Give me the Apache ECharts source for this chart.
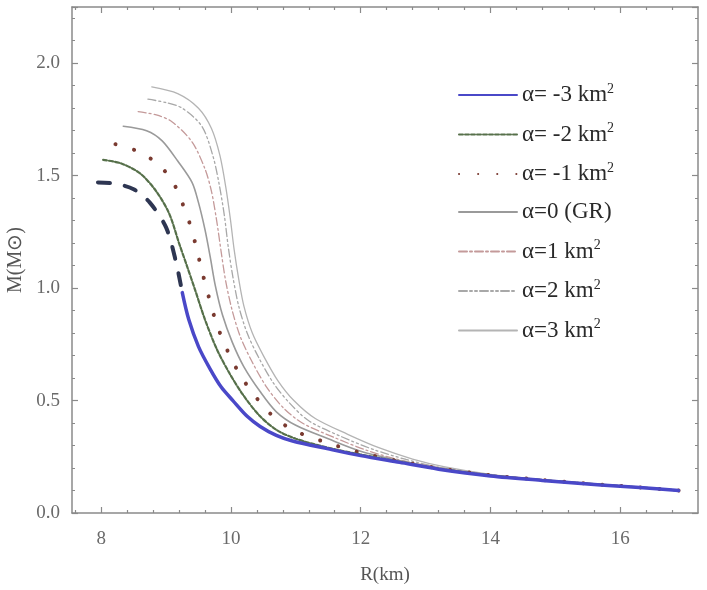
<!DOCTYPE html>
<html>
<head>
<meta charset="utf-8">
<script src="https://cdn.jsdelivr.net/npm/echarts@6/dist/echarts.min.js"></script>
<style>html,body{margin:0;padding:0;background:#fff;}#c{width:707px;height:590px;}</style>
</head>
<body>
<div id="c"></div>
<script>
// ---- data (R in km, M in solar masses) ----
var names = ['α= -3 km²', 'α= -2 km²', 'α= -1 km²', 'α=0 (GR)', 'α=1 km²', 'α=2 km²', 'α=3 km²'];
var alphaM3 = [[7.95,1.47],[8.2,1.465],[8.5,1.44],[8.75,1.38],[9.0,1.27],[9.15,1.12],[9.25,0.98],[9.35,0.86],[9.5,0.74],[9.68,0.64],[9.85,0.56],[10.03,0.50],[10.25,0.43],[10.45,0.385],[10.7,0.345],[10.95,0.32],[11.5,0.285],[12.0,0.255],[12.6,0.225],[13.2,0.195],[14.0,0.165],[14.8,0.145],[15.7,0.125],[16.3,0.113],[16.9,0.10]];
var alphaM2 = [[8.03,1.57],[8.3,1.555],[8.6,1.51],[8.85,1.43],[9.05,1.33],[9.2,1.20],[9.32,1.10],[9.45,0.99],[9.6,0.86],[9.78,0.73],[9.98,0.62],[10.2,0.52],[10.45,0.43],[10.7,0.37],[11.0,0.33],[11.5,0.29],[12.0,0.26],[12.6,0.228],[13.2,0.197],[14.0,0.167],[14.8,0.146],[15.7,0.126],[16.3,0.114],[16.9,0.10]];
var alphaM1 = [[8.22,1.64],[8.55,1.61],[8.86,1.555],[9.09,1.48],[9.22,1.40],[9.35,1.30],[9.45,1.20],[9.55,1.08],[9.65,0.97],[9.78,0.84],[9.95,0.72],[10.15,0.61],[10.4,0.51],[10.65,0.43],[10.95,0.37],[11.4,0.32],[12.0,0.268],[12.6,0.23],[13.2,0.199],[14.0,0.168],[14.8,0.147],[15.7,0.126],[16.3,0.114],[16.9,0.10]];
var alpha0 = [[8.34,1.72],[8.7,1.70],[8.94,1.655],[9.18,1.565],[9.4,1.47],[9.5,1.38],[9.6,1.26],[9.68,1.14],[9.76,1.01],[9.87,0.88],[10.02,0.76],[10.2,0.65],[10.45,0.54],[10.7,0.45],[11.0,0.39],[11.5,0.33],[12.0,0.275],[12.6,0.233],[13.2,0.2],[14.0,0.169],[14.8,0.147],[15.7,0.127],[16.3,0.114],[16.9,0.10]];
var alphaP1 = [[8.57,1.785],[8.85,1.77],[9.09,1.74],[9.4,1.65],[9.6,1.53],[9.7,1.43],[9.78,1.30],[9.85,1.16],[9.92,1.03],[10.02,0.90],[10.15,0.78],[10.33,0.67],[10.55,0.56],[10.8,0.47],[11.1,0.40],[11.6,0.335],[12.1,0.278],[12.6,0.236],[13.2,0.202],[14.0,0.17],[14.8,0.148],[15.7,0.127],[16.3,0.114],[16.9,0.10]];
var alphaP2 = [[8.72,1.84],[9.0,1.825],[9.25,1.80],[9.55,1.72],[9.72,1.59],[9.82,1.46],[9.9,1.32],[9.96,1.18],[10.03,1.05],[10.12,0.92],[10.25,0.80],[10.43,0.69],[10.65,0.58],[10.9,0.49],[11.2,0.41],[11.7,0.34],[12.2,0.282],[12.7,0.238],[13.2,0.204],[14.0,0.171],[14.8,0.148],[15.7,0.127],[16.3,0.114],[16.9,0.10]];
var alphaP3 = [[8.78,1.895],[9.18,1.865],[9.5,1.80],[9.7,1.71],[9.83,1.59],[9.92,1.45],[9.99,1.31],[10.05,1.17],[10.12,1.04],[10.2,0.92],[10.33,0.80],[10.5,0.70],[10.72,0.59],[10.97,0.50],[11.3,0.42],[11.8,0.35],[12.3,0.288],[12.8,0.24],[13.3,0.205],[14.0,0.172],[14.8,0.149],[15.7,0.128],[16.3,0.115],[16.9,0.10]];
var xMajorTicks = [8, 10, 12, 14, 16];
var yMajorTicks = [0.0, 0.5, 1.0, 1.5, 2.0];

// ---- chart ----
var XMIN = 7.55, XMAX = 17.2, YMIN = 0, YMAX = 2.25;
var xMinor = [];
for (var v = 7.6; v < XMAX; v += 0.4) { var r = Math.round(v * 10) / 10; if (xMajorTicks.indexOf(r) < 0) xMinor.push(r); }

var serif = 'Liberation Serif';
var frameColor = '#8a8a8a';
var labelColor = '#6a6a6a';

function xAx(pos, withLabels, ticks, len, showLine) {
  return {
    type: 'value', position: pos, min: XMIN, max: XMAX,
    axisLine: { show: showLine, onZero: false, lineStyle: { color: frameColor, width: 1.5 } },
    axisTick: { show: true, inside: true, length: len, customValues: ticks, lineStyle: { color: frameColor, width: 1.2 } },
    axisLabel: { show: withLabels, customValues: withLabels ? xMajorTicks : [], color: labelColor, fontFamily: serif, fontSize: 19, margin: 17, formatter: function (v) { return String(v); } },
    splitLine: { show: false },
    name: withLabels ? 'R(km)' : '', nameLocation: 'middle', nameGap: 53,
    nameTextStyle: { color: '#555', fontFamily: serif, fontSize: 19 }
  };
}
function yAx(pos, withLabels) {
  return {
    type: 'value', position: pos, min: YMIN, max: YMAX, interval: 0.5,
    axisLine: { show: true, onZero: false, lineStyle: { color: frameColor, width: 1.5 } },
    axisTick: { show: true, inside: true, length: 6, lineStyle: { color: frameColor, width: 1.2 } },
    minorTick: { show: true, splitNumber: 5, length: 3, lineStyle: { color: frameColor, width: 1 } },
    axisLabel: { show: withLabels, color: labelColor, fontFamily: serif, fontSize: 19, margin: 12,
      formatter: function (v) { return yMajorTicks.indexOf(v) >= 0 ? v.toFixed(1) : ''; } },
    splitLine: { show: false },
    name: withLabels ? 'M(M⊙)' : '', nameLocation: 'middle', nameGap: 42, nameRotate: 90,
    nameTextStyle: { color: '#555', fontFamily: serif, fontSize: 20 }
  };
}

var upper = alphaM3.filter(function (p) { return p[1] >= 0.98; });
var lower = alphaM3.filter(function (p) { return p[1] <= 0.98; });

function line(name, data, color, width, dash) {
  return {
    type: 'line', name: name, data: data, smooth: 0.3, symbol: 'none', showSymbol: false,
    xAxisIndex: 0, yAxisIndex: 0,
    lineStyle: { color: color, width: width, type: dash || 'solid', cap: 'round' },
    itemStyle: { color: color }, z: 3
  };
}

var series = [
  line(names[6], alphaP3, '#b4b4b4', 1.3, 'solid'),
  line(names[5], alphaP2, '#a8a8a8', 1.3, [8, 3, 2, 3, 2, 3]),
  line(names[4], alphaP1, '#c49a9a', 1.3, [8, 3, 2, 3]),
  line(names[3], alpha0, '#9a9a9a', 1.6, 'solid'),
  line(names[2], alphaM1, '#7a3a30', 4, [0.1, 19]),
  line(names[1], alphaM2, '#56704a', 2.2, [4, 2]),
  line(names[0], lower, '#4a48c8', 3.5, 'solid'),
  line('upper', upper, '#2e3652', 4, [12, 15])
];

var chart = echarts.init(document.getElementById('c'), null, { renderer: 'canvas' });
chart.setOption({
  animation: false,
  backgroundColor: '#fff',
  grid: { left: 72, right: 9, top: 7, bottom: 77, containLabel: false, outerBoundsMode: 'none' },
  xAxis: [
    xAx('bottom', true, xMajorTicks, 6, true),
    xAx('bottom', false, xMinor, 3, false),
    xAx('top', false, xMajorTicks, 6, true),
    xAx('top', false, xMinor, 3, false)
  ],
  yAxis: [yAx('left', true), yAx('right', false)],
  legend: {
    orient: 'vertical', left: 453, top: 77, itemGap: 15, itemWidth: 58, itemHeight: 26,
    data: names,
    itemStyle: { opacity: 0 },
    textStyle: { fontFamily: serif, fontSize: 23, color: '#2a2a2a',
      rich: { s: { fontFamily: serif, fontSize: 14, color: '#2a2a2a', verticalAlign: 'top', padding: [0, 0, 12, 0] } } },
    formatter: function (n) { return n.replace('²', '{s|2}'); },
    selectedMode: false
  },
  series: series
});
</script>
</body>
</html>
